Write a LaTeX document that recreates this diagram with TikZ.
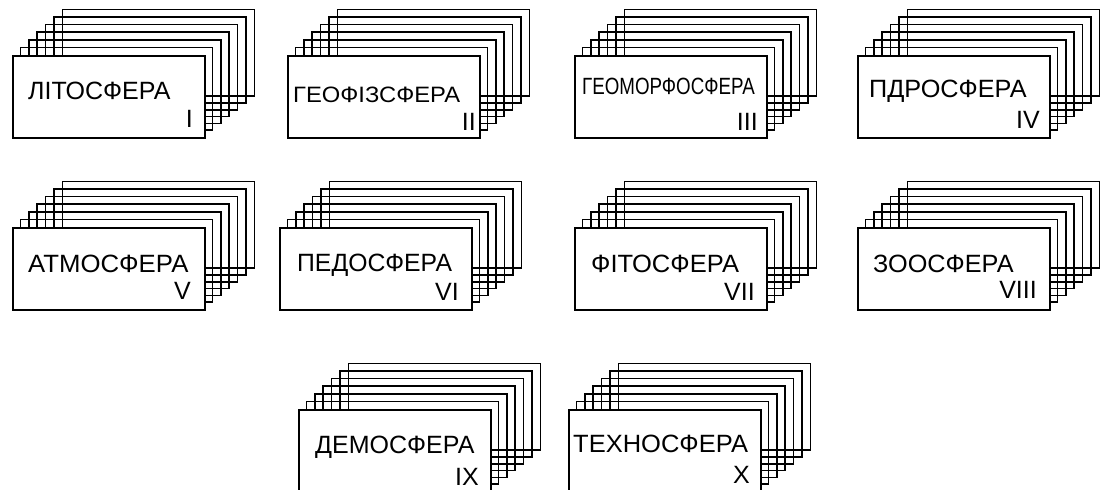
\documentclass[tikz,border=0pt]{standalone}
\usepackage{fontspec}
\setmainfont{Liberation Sans}
\tikzset{
  cardline/.style={draw=black, line width=1.6pt},
  frontcard/.style={cardline, fill=white, rectangle, minimum width=192pt, minimum height=82pt, inner sep=0pt, anchor=north west},
  sphere/.style={font=\fontsize{25}{25}\selectfont, inner sep=0pt, anchor=base west},
  numeral/.style={font=\fontsize{25}{25}\selectfont, inner sep=0pt, anchor=base east},
}
\newcommand{\backcards}[2]{%
  \foreach \k in {6,5,4,3,2,1}{
    \draw[cardline] ({#1+8.4*\k},{#2-7.6*\k}) rectangle ({#1+8.4*\k+192},{#2+82-6.8*\k});
  }%
}
\newcommand{\sxy}[3]{\scalebox{#1}[#2]{#3}}
\begin{document}
\begin{tikzpicture}[x=1pt,y=-1pt]
\useasboundingbox (0,0) rectangle (1101,490);
\clip (0,0) rectangle (1101,490);
% row 1
\backcards{12}{55}
\node[frontcard] (c1) at (12,55) {};
\node[sphere] (l1) at (28,99) {ЛІТОСФЕРА};
\node[numeral] (n1) at (193,127) {I};

\backcards{287}{55}
\node[frontcard] (c2) at (287,55) {};
\node[sphere] (l2) at (293,102) {\sxy{0.95}{0.89}{ГЕОФІЗСФЕРА}};
\node[numeral] (n2) at (476,130) {II};

\backcards{574}{55}
\node[frontcard] (c3) at (574,55) {};
\node[sphere] (l3) at (582,94) {\sxy{0.75}{0.94}{ГЕОМОРФОСФЕРА}};
\node[numeral] (n3) at (758,130) {III};

\backcards{857}{55}
\node[frontcard] (c4) at (857,55) {};
\node[sphere] (l4) at (869,97) {\sxy{1.01}{1}{ПДРОСФЕРА}};
\node[numeral] (n4) at (1040,128) {IV};

% row 2
\backcards{12}{227}
\node[frontcard] (c5) at (12,227) {};
\node[sphere] (l5) at (28,272) {\sxy{1.03}{1}{АТМОСФЕРА}};
\node[numeral] (n5) at (191,299) {V};

\backcards{279}{227}
\node[frontcard] (c6) at (279,227) {};
\node[sphere] (l6) at (297,271) {\sxy{0.99}{1}{ПЕДОСФЕРА}};
\node[numeral] (n6) at (459,300) {VI};

\backcards{574}{227}
\node[frontcard] (c7) at (574,227) {};
\node[sphere] (l7) at (591,272) {\sxy{1.02}{1}{ФІТОСФЕРА}};
\node[numeral] (n7) at (755,300) {VII};

\backcards{857}{227}
\node[frontcard] (c8) at (857,227) {};
\node[sphere] (l8) at (873,272) {\sxy{1.01}{1}{ЗООСФЕРА}};
\node[numeral] (n8) at (1037,298) {VIII};

% row 3
\backcards{298}{409}
\node[frontcard] (c9) at (298,409) {};
\node[sphere] (l9) at (315,453) {ДЕМОСФЕРА};
\node[numeral] (n9) at (479,485) {IX};

\backcards{568}{409}
\node[frontcard] (c10) at (568,409) {};
\node[sphere] (l10) at (573,452) {\sxy{1.02}{1}{ТЕХНОСФЕРА}};
\node[numeral] (n10) at (750,483) {X};
\end{tikzpicture}
\end{document}
